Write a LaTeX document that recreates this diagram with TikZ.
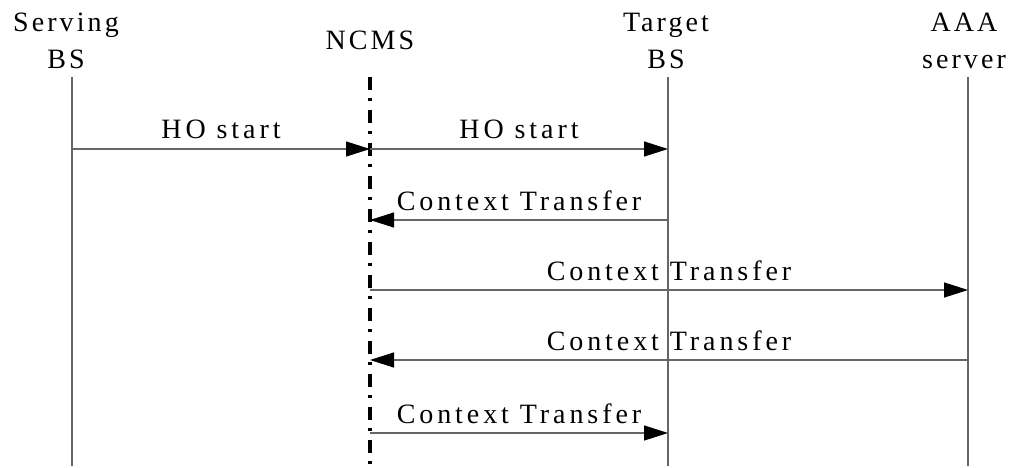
\documentclass[tikz,border=0pt]{standalone}
\usepackage{fontspec}
\setmainfont{Liberation Serif}[LetterSpace=11]
\usetikzlibrary{arrows.meta}

\tikzset{
  head/.style={align=center, inner sep=0pt, font=\fontsize{28}{37}\selectfont},
  life/.style={draw=black!60, line width=1.3pt},
  ncmsline/.style={draw=black, line width=3.4pt, dash pattern=on 13pt off 8pt on 3pt off 9pt},
  msg/.style={draw=black!60, line width=1.3pt, -{Triangle[length=24pt,width=15pt,color=black]}},
  lbl/.style={anchor=base, inner sep=0pt, yshift=10pt,
    font=\fontsize{28}{30}\selectfont\addfontfeature{LetterSpace=14}}
}

\begin{document}
\begin{tikzpicture}[x=1pt,y=-1pt]
  \useasboundingbox (0,0) rectangle (1019,468);
  % entities
  \node[head, anchor=north] (serving) at (66,13) {Serving\\BS};
  \node[head, anchor=base] (ncms) at (370,50) {NCMS};
  \node[head, anchor=north] (target) at (666,13) {Target\\BS};
  \node[head, anchor=north] (aaa) at (964,13) {AAA\\server};
  % lifelines
  \coordinate (sbs) at (72,77);
  \coordinate (nc) at (370,77);
  \coordinate (tbs) at (668,77);
  \coordinate (srv) at (968,77);
  \coordinate (bot) at (0,466);
  \draw[life] (sbs) -- (sbs |- bot);
  \draw[life] (tbs) -- (tbs |- bot);
  \draw[life] (srv) -- (srv |- bot);
  \draw[ncmsline] (nc) -- (370,468);
  % messages
  \draw[msg] (sbs |- 0,149) -- node[lbl] {HO start} (nc |- 0,149);
  \draw[msg] (nc |- 0,149) -- node[lbl] {HO start} (tbs |- 0,149);
  \draw[msg] (tbs |- 0,220) -- node[lbl] {Context Transfer} (nc |- 0,220);
  \draw[msg] (nc |- 0,290) -- node[lbl] {Context Transfer} (srv |- 0,290);
  \draw[msg] (srv |- 0,360) -- node[lbl] {Context Transfer} (nc |- 0,360);
  \draw[msg] (nc |- 0,433) -- node[lbl] {Context Transfer} (tbs |- 0,433);
\end{tikzpicture}
\end{document}
